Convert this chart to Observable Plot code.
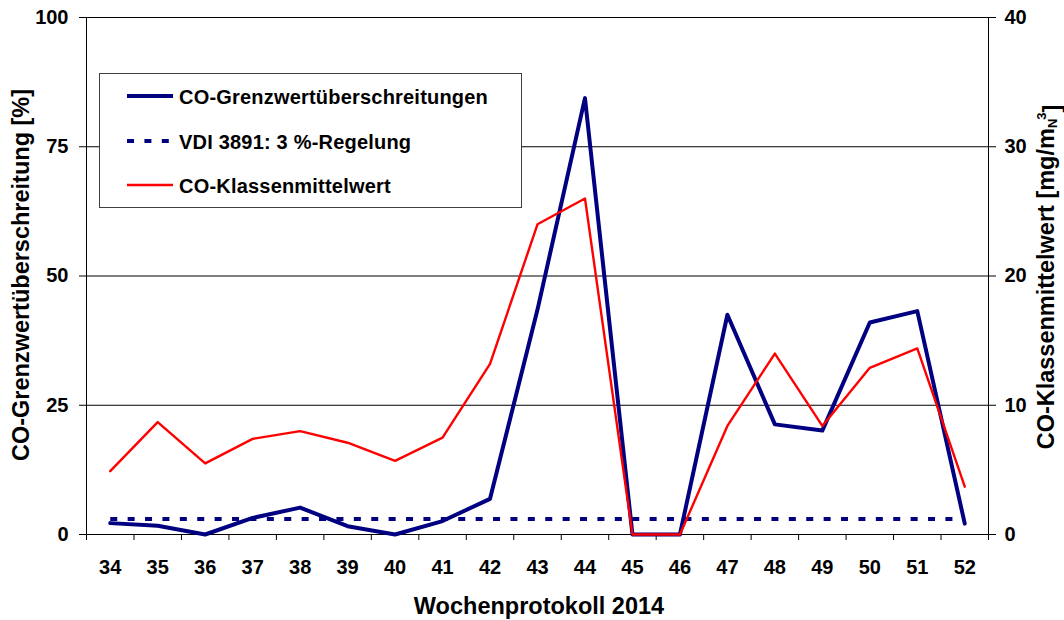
<!DOCTYPE html>
<html>
<head>
<meta charset="utf-8">
<script src="https://cdn.jsdelivr.net/npm/d3@7"></script>
<script src="https://cdn.jsdelivr.net/npm/@observablehq/plot@0.6"></script>
<style>
  html, body { margin: 0; padding: 0; background: #fff; }
  #chart { position: relative; width: 1064px; height: 620px; }
</style>
</head>
<body>
<div id="chart"></div>
<script>
// ---- data ----
const weeks = [34, 35, 36, 37, 38, 39, 40, 41, 42, 43, 44, 45, 46, 47, 48, 49, 50, 51, 52];
const grenzwert = [2.2, 1.7, 0, 3.2, 5.2, 1.6, 0, 2.6, 6.9, 43.5, 84.4, 0, 0, 42.5, 21.3, 20.1, 41.0, 43.2, 2.1]; // %
const klassenmittel = [4.9, 8.7, 5.5, 7.4, 8.0, 7.1, 5.7, 7.5, 13.2, 24.0, 26.0, 0, 0, 8.4, 14.0, 8.4, 12.9, 14.4, 3.7]; // mg/mN3
const vdiLimit = 3; // %
const leftTicks = [0, 25, 50, 75, 100];
const rightTicks = [0, 10, 20, 30, 40];
const seriesNames = ["CO-Grenzwertüberschreitungen", "VDI 3891: 3 %-Regelung", "CO-Klassenmittelwert"];
const xTitle = "Wochenprotokoll 2014";
const yLeftTitle = "CO-Grenzwertüberschreitung [%]";
const yRightTitle = "CO-Klassenmittelwert [mg/m";

const ratio = 100 / 40; // right axis 0..40 maps to left axis 0..100
const rows = weeks.map((w, i) => ({week: w, grenz: grenzwert[i], mittel: klassenmittel[i], limit: vdiLimit}));
const bounds = weeks.map(w => w - 0.5).concat([weeks[weeks.length - 1] + 0.5]);

const navy = "#000080";
const red = "#ff0000";

const chart = Plot.plot({
  width: 1064,
  height: 620,
  marginLeft: 86,
  marginRight: 76,
  marginTop: 17,
  marginBottom: 86,
  style: {fontFamily: "'Liberation Sans', Arial, sans-serif", fontSize: "20px", fontWeight: "bold", color: "#000", background: "#fff", overflow: "visible"},
  x: {domain: [bounds[0], bounds[bounds.length - 1]]},
  y: {domain: [0, 100]},
  marks: [
    Plot.ruleY(leftTicks.filter(d => d > 0), {stroke: "#000", strokeWidth: 1}),
    Plot.axisY({ticks: leftTicks, tickSize: 7, tickPadding: 11, tickFormat: d => String(d), label: null, anchor: "left", stroke: "#000"}),
    Plot.axisY({ticks: rightTicks.map(d => d * ratio), tickSize: 7, tickPadding: 9, tickFormat: d => String(Math.round(d / ratio)), label: null, anchor: "right", stroke: "#000"}),
    Plot.axisX({ticks: bounds, tickSize: 6, tickFormat: () => "", label: null, stroke: "#000"}),
    Plot.axisX({ticks: weeks, tickSize: 0, tickPadding: 25, tickFormat: d => String(d), label: null}),
    Plot.ruleX([bounds[0], bounds[bounds.length - 1]], {stroke: "#000", strokeWidth: 1}),
    Plot.ruleY([0], {stroke: "#000", strokeWidth: 1}),
    Plot.line(rows, {x: "week", y: "limit", stroke: navy, strokeWidth: 4, strokeDasharray: "7,10.4", strokeLinecap: "butt"}),
    Plot.line(rows, {x: "week", y: "grenz", stroke: navy, strokeWidth: 4, strokeLinejoin: "round"}),
    Plot.line(rows, {x: "week", y: d => d.mittel * ratio, stroke: red, strokeWidth: 2.4, strokeLinejoin: "round"})
  ]
});

document.getElementById("chart").appendChild(chart);

// ---- axis titles & legend ----
const svg = d3.select(chart);
const font = "'Liberation Sans', Arial, sans-serif";

svg.append("text")
  .attr("transform", "translate(29,275) rotate(-90)")
  .attr("text-anchor", "middle")
  .attr("font-family", font).attr("font-weight", "bold").attr("font-size", "23.5px").attr("fill", "#000")
  .text(yLeftTitle);

const rt = svg.append("text")
  .attr("transform", "translate(1054,277) rotate(-90)")
  .attr("text-anchor", "middle")
  .attr("font-family", font).attr("font-weight", "bold").attr("font-size", "23.5px").attr("fill", "#000");
rt.append("tspan").text(yRightTitle);
rt.append("tspan").attr("dy", "0.25em").attr("font-size", "13px").text("N");
rt.append("tspan").attr("dy", "-0.85em").attr("dx", "-1px").attr("font-size", "13px").text("3");
rt.append("tspan").attr("dy", "0.6em").text("]");

svg.append("text")
  .attr("x", 539).attr("y", 614)
  .attr("text-anchor", "middle")
  .attr("font-family", font).attr("font-weight", "bold").attr("font-size", "23.5px").attr("fill", "#000")
  .text(xTitle);

const lg = svg.append("g");
lg.append("rect").attr("x", 99.5).attr("y", 73.5).attr("width", 422).attr("height", 134)
  .attr("fill", "#fff").attr("stroke", "#404040").attr("stroke-width", 1);
const legendItems = [
  {name: seriesNames[0], color: navy, width: 4, dash: null, y: 96},
  {name: seriesNames[1], color: navy, width: 4, dash: "7,10.4", y: 141},
  {name: seriesNames[2], color: red, width: 2.4, dash: null, y: 185}
];
legendItems.forEach(it => {
  const l = lg.append("line").attr("x1", 127).attr("x2", 173).attr("y1", it.y).attr("y2", it.y)
    .attr("stroke", it.color).attr("stroke-width", it.width);
  if (it.dash) l.attr("stroke-dasharray", it.dash);
  lg.append("text").attr("x", 179).attr("y", it.y + 8)
    .attr("text-anchor", "start").attr("letter-spacing", "0.2px")
    .attr("font-family", font).attr("font-weight", "bold").attr("font-size", "20px").attr("fill", "#000")
    .text(it.name);
});
</script>
</body>
</html>
